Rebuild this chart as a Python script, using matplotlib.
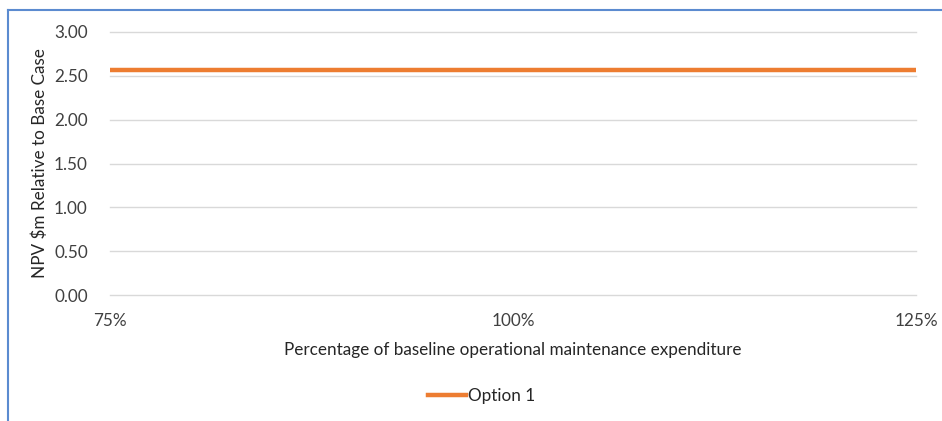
import matplotlib
matplotlib.use("Agg")
import matplotlib.pyplot as plt
from matplotlib.lines import Line2D

# Sensitivity of NPV to operational maintenance expenditure
pct_levels = [75, 100, 125]
option1_npv = [2.57, 2.57, 2.57]
x_tick_labels = ["75%", "100%", "125%"]
y_ticks = [0.0, 0.5, 1.0, 1.5, 2.0, 2.5, 3.0]

plt.rcParams['font.family'] = ['Lato', 'DejaVu Sans']
FS = 12.3

W, H = 942, 421
fig = plt.figure(figsize=(W / 100, H / 100), dpi=100)
fig.patch.set_facecolor("white")

# plot area in pixel terms
left, right, top, bottom = 110, 916, 32, 295
ax = fig.add_axes([left / W, 1 - bottom / H, (right - left) / W, (bottom - top) / H])

ax.plot(pct_levels, option1_npv, color="#ED7D31", linewidth=3.2,
        solid_capstyle="round", label="Option 1", zorder=3)

ax.set_xlim(75, 125)
ax.set_ylim(0, 3.0)
ax.set_yticks(y_ticks)
ax.set_yticklabels([f"{v:.2f}" for v in y_ticks])
ax.set_xticks(pct_levels)
ax.set_xticklabels(x_tick_labels)

for yv in y_ticks:
    ax.axhline(yv, color="#D9D9D9", linewidth=1.0, zorder=0, clip_on=False)
for s in ax.spines.values():
    s.set_visible(False)
ax.tick_params(axis="both", length=0, labelsize=FS, colors="#404040")
ax.tick_params(axis="y", pad=16)
ax.tick_params(axis="x", pad=13)

ax.set_ylabel("NPV $m Relative to Base Case", fontsize=FS, color="#262626", labelpad=4)
ax.set_xlabel("Percentage of baseline operational maintenance expenditure",
              fontsize=FS, color="#262626", labelpad=9)

handle = Line2D([0], [0], color="#ED7D31", linewidth=3.2)
fig.legend([handle], ["Option 1"], loc="center", bbox_to_anchor=(482 / W, 1 - 396 / H),
           frameon=False, fontsize=FS, handlelength=2.2, handletextpad=0.15,
           labelcolor="#262626")

# chart frame border
fig.add_artist(Line2D([7.5 / W, 7.5 / W], [0, 1 - 10 / H], color="#5B8BD0",
                      linewidth=1.5, transform=fig.transFigure))
fig.add_artist(Line2D([7.5 / W, 1], [1 - 10 / H, 1 - 10 / H], color="#5B8BD0",
                      linewidth=1.5, transform=fig.transFigure))

fig.savefig("out.png", dpi=100, facecolor="white")
